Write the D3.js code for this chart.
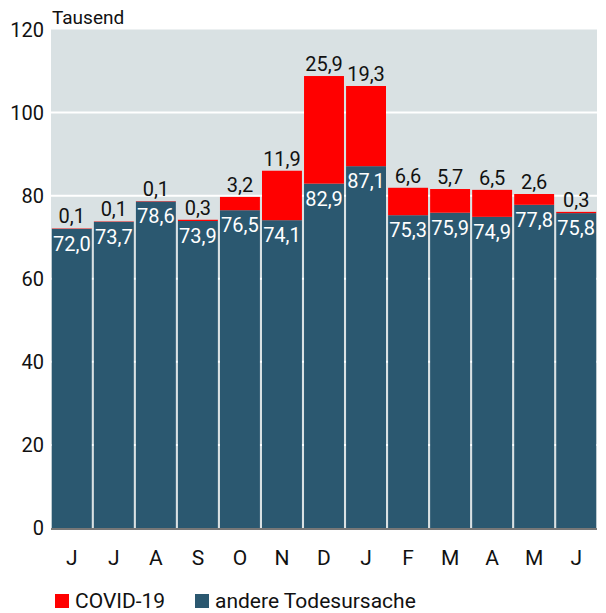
<!DOCTYPE html>
<html>
<head>
<meta charset="utf-8">
<script src="https://cdn.jsdelivr.net/npm/d3@7"></script>
<style>
body{margin:0;background:#fff;}
svg{display:block;font-family:Roboto,"Noto Sans",sans-serif;}
</style>
</head>
<body>
<script>
// Monate Juni 2020 bis Juni 2021
const months=["J","J","A","S","O","N","D","J","F","M","A","M","J"];
const andere=[72.0,73.7,78.6,73.9,76.5,74.1,82.9,87.1,75.3,75.9,74.9,77.8,75.8];
const covid=[0.1,0.1,0.1,0.3,3.2,11.9,25.9,19.3,6.6,5.7,6.5,2.6,0.3];
const yTicks=[0,20,40,60,80,100,120];
const legendItems=["COVID-19","andere Todesursache"];

const w=606,h=613;
const m={top:29.5,right:9,bottom:85,left:51};
const svg=d3.select("body").append("svg").attr("width",w).attr("height",h);

const rows=months.map((d,i)=>({i,month:d,andere:andere[i],covid:covid[i]}));

const x=d3.scaleBand().domain(d3.range(months.length))
  .range([m.left,w-m.right]).paddingInner(0.05).paddingOuter(0.02);
const y=d3.scaleLinear().domain([0,120]).range([h-m.bottom,m.top]);
const color=d3.scaleOrdinal(legendItems,["#ff0000","#2b5870"]);

// Hintergrund
svg.append("rect")
  .attr("x",m.left).attr("y",m.top)
  .attr("width",w-m.right-m.left).attr("height",y(0)-m.top)
  .attr("fill","#d9e1e3");

// Gitterlinien
svg.append("g").selectAll("line")
  .data(yTicks.slice(1,-1))
  .join("line")
  .attr("x1",m.left).attr("x2",w-m.right)
  .attr("y1",d=>y(d)).attr("y2",d=>y(d))
  .attr("stroke","#fff").attr("stroke-width",2);

const stack=d3.stack().keys(["andere","covid"])(rows);
const keyName={andere:"andere Todesursache",covid:"COVID-19"};

svg.append("g").selectAll("g")
  .data(stack)
  .join("g")
  .attr("fill",s=>color(keyName[s.key]))
  .selectAll("rect")
  .data(s=>s)
  .join("rect")
  .attr("x",d=>x(d.data.i))
  .attr("width",x.bandwidth())
  .attr("y",d=>y(d[1]))
  .attr("height",d=>y(d[0])-y(d[1]));

// Beschriftungen
const fmt=v=>d3.format(".1f")(v).replace(".",",");
svg.append("g").selectAll("text")
  .data(rows)
  .join("text")
  .attr("x",d=>x(d.i)+x.bandwidth()/2)
  .attr("y",d=>y(d.andere+d.covid)-5)
  .attr("text-anchor","middle")
  .style("font-size","20px")
  .attr("fill","#111")
  .text(d=>fmt(d.covid));

svg.append("g").selectAll("text")
  .data(rows)
  .join("text")
  .attr("x",d=>x(d.i)+x.bandwidth()/2)
  .attr("y",d=>y(d.andere)+22)
  .attr("text-anchor","middle")
  .style("font-size","20px")
  .attr("fill","#fff")
  .text(d=>fmt(d.andere));

// Grundlinie
svg.append("line")
  .attr("x1",m.left).attr("x2",w-m.right)
  .attr("y1",y(0)+1).attr("y2",y(0)+1)
  .attr("stroke","#777").attr("stroke-width",2);

// y-Achse
svg.append("g").selectAll("text")
  .data(yTicks)
  .join("text")
  .attr("x",m.left-7)
  .attr("y",d=>y(d))
  .attr("dy","0.35em")
  .attr("text-anchor","end")
  .style("font-size","20px")
  .attr("fill","#111")
  .text(d=>d);

svg.append("text")
  .attr("x",m.left+1).attr("y",24)
  .style("font-size","19px")
  .attr("fill","#111")
  .text("Tausend");

// x-Achse
svg.append("g").selectAll("text")
  .data(rows)
  .join("text")
  .attr("x",d=>x(d.i)+x.bandwidth()/2)
  .attr("y",565)
  .attr("text-anchor","middle")
  .style("font-size","21px")
  .attr("fill","#111")
  .text(d=>d.month);

// Legende
const lg=svg.append("g").attr("transform","translate(55,594)");
const lx=[0,140];
const li=lg.selectAll("g").data(legendItems).join("g")
  .attr("transform",(d,i)=>`translate(${lx[i]},0)`);
li.append("rect").attr("width",14).attr("height",14).attr("fill",d=>color(d));
li.append("text").attr("x",20).attr("y",14)
  .style("font-size","21px").attr("fill","#111").text(d=>d);
</script>
</body>
</html>
